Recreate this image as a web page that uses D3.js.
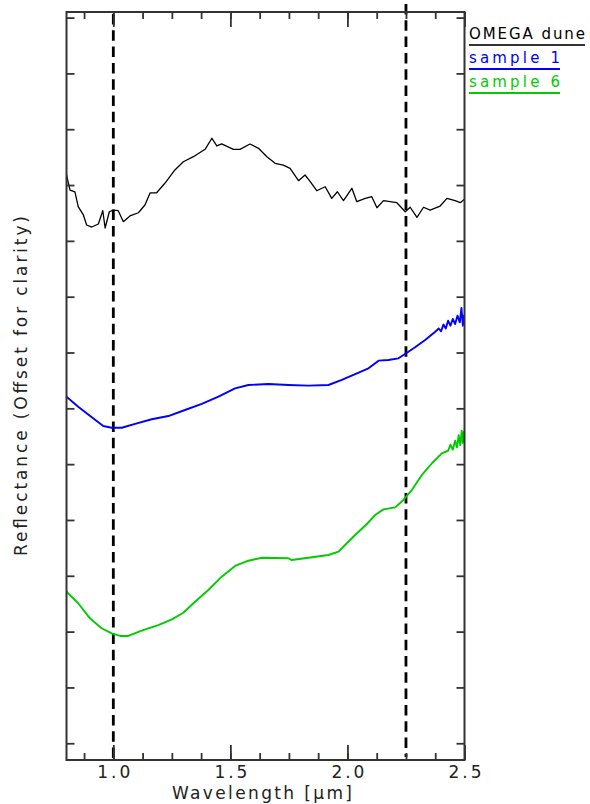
<!DOCTYPE html>
<html>
<head>
<meta charset="utf-8">
<script src="https://cdn.jsdelivr.net/npm/d3@7"></script>
<style>
  body { margin: 0; background: #fff; }
  text { font-family: "DejaVu Sans", sans-serif; fill: #222; }
</style>
</head>
<body>
<div id="chart"></div>
<script>
// wavelength (um) / offset reflectance
var omegaX = [0.80,0.815,0.836,0.850,0.872,0.886,0.908,0.936,0.955,0.965,0.983,1.000,1.021,1.043,1.071,1.107,1.135,1.157,1.185,1.221,1.263,1.299,1.342,1.392,1.421,1.442,1.463,1.513,1.541,1.584,1.620,1.656,1.691,1.726,1.755,1.791,1.819,1.841,1.869,1.905,1.933,1.957,1.983,2.019,2.040,2.076,2.104,2.126,2.154,2.211,2.247,2.268,2.297,2.325,2.353,2.396,2.425,2.460,2.482,2.500];
var omegaY = [0.559,0.5455,0.5438,0.5306,0.5232,0.5142,0.5124,0.5151,0.5270,0.5115,0.5261,0.5276,0.5270,0.5172,0.5223,0.5252,0.5321,0.5429,0.5431,0.5518,0.5635,0.5709,0.5754,0.5820,0.5919,0.5850,0.5868,0.5820,0.5820,0.5868,0.5829,0.5754,0.5695,0.5679,0.5650,0.5539,0.5590,0.5530,0.5449,0.5485,0.5381,0.5440,0.5360,0.5471,0.5351,0.5381,0.5396,0.5297,0.5360,0.5342,0.5261,0.5301,0.5211,0.5301,0.5276,0.5312,0.5381,0.5360,0.5342,0.5372];

var sample1X = [0.80,0.850,0.908,0.957,0.993,1.036,1.093,1.164,1.235,1.306,1.378,1.449,1.520,1.577,1.662,1.748,1.833,1.919,1.976,2.033,2.090,2.133,2.175,2.218,2.254,2.289,2.332,2.375,2.390,2.400,2.410,2.420,2.430,2.440,2.450,2.460,2.470,2.480,2.487,2.493,2.497,2.500];
var sample1Y = [0.3604,0.3515,0.3420,0.3342,0.3326,0.3326,0.3360,0.3402,0.3431,0.3485,0.3539,0.3604,0.3679,0.3709,0.3718,0.3709,0.3703,0.3709,0.3754,0.3807,0.3858,0.3927,0.3933,0.3948,0.3998,0.4047,0.4112,0.4186,0.4215,0.4190,0.4250,0.4215,0.4285,0.4240,0.4300,0.4255,0.4330,0.4270,0.4400,0.4240,0.4330,0.4300];

var sample6X = [0.80,0.850,0.900,0.950,0.993,1.029,1.064,1.121,1.192,1.250,1.299,1.349,1.406,1.463,1.520,1.577,1.634,1.748,1.762,1.833,1.919,1.962,1.990,2.033,2.083,2.118,2.154,2.204,2.239,2.275,2.318,2.361,2.403,2.430,2.440,2.450,2.460,2.468,2.475,2.482,2.488,2.493,2.497,2.500];
var sample6Y = [0.1857,0.1754,0.1619,0.1530,0.1485,0.1461,0.1461,0.1508,0.1559,0.1610,0.1669,0.1768,0.1873,0.1992,0.2088,0.2135,0.2162,0.2157,0.2141,0.2162,0.2186,0.2216,0.2276,0.2365,0.2464,0.2544,0.2595,0.2613,0.2679,0.2768,0.2903,0.3008,0.3097,0.3120,0.3175,0.3130,0.3210,0.3150,0.3260,0.3170,0.3300,0.3190,0.3290,0.3250];

var seriesNames = ["OMEGA dune", "sample 1", "sample 6"];
var seriesColors = ["#000000", "#0000ff", "#00cc00"];
var markerLines = [1.0, 2.25];

var xMajor = [1.0, 1.5, 2.0, 2.5];
var xMinor = d3.range(7, 21).map(function(k){ return k * 0.125; });
var yTicks = d3.range(1, 15).map(function(k){ return k * 0.05; });

var W = 590, H = 804;
var pLeft = 66.5, pRight = 464.5, pTop = 12, pBottom = 760;

var svg = d3.select("#chart")
    .append("svg")
    .attr("width", W)
    .attr("height", H);

var x = d3.scaleLinear().domain([0.8, 2.5]).range([pLeft, pRight]);
var y = d3.scaleLinear().domain([0.035, 0.705]).range([pBottom, pTop]);

svg.append("clipPath").attr("id", "clip")
    .append("rect")
    .attr("x", pLeft).attr("y", pTop)
    .attr("width", pRight - pLeft).attr("height", pBottom - pTop);

// dashed markers
markerLines.forEach(function(v, i){
    svg.append("line")
        .attr("x1", x(v)).attr("x2", x(v))
        .attr("y1", i == 0 ? pTop + 2 : pTop - 8)
        .attr("y2", i == 0 ? pBottom + 2 : pBottom - 3)
        .style("stroke", "#000")
        .style("stroke-width", 2.8)
        .style("stroke-dasharray", "10.5,5.8");
});

var line = d3.line()
    .x(function(d){ return x(d[0]); })
    .y(function(d){ return y(d[1]); });

var series = [
    d3.zip(omegaX, omegaY),
    d3.zip(sample1X, sample1Y),
    d3.zip(sample6X, sample6Y)
];

var plot = svg.append("g").attr("clip-path", "url(#clip)");
series.forEach(function(s, i){
    plot.append("path")
        .datum(s)
        .attr("d", line)
        .style("fill", "none")
        .style("stroke", seriesColors[i])
        .style("stroke-width", i == 0 ? 1.3 : 1.9)
        .style("stroke-linejoin", "round");
});

// axes
function styleAxis(g){
    g.selectAll("path").remove();
    g.selectAll("line").style("stroke", "#333").style("stroke-width", 1.8);
}

svg.append("g")
    .attr("transform", "translate(0," + pBottom + ")")
    .call(d3.axisBottom(x).tickValues(xMinor).tickSize(-7).tickFormat(""))
    .call(styleAxis);
svg.append("g")
    .attr("transform", "translate(0," + pBottom + ")")
    .call(d3.axisBottom(x).tickValues(xMajor).tickSize(-15).tickPadding(6).tickFormat(d3.format(".1f")))
    .call(styleAxis)
    .selectAll("text")
    .style("font-size", "17px")
    .attr("textLength", 33)
    .attr("lengthAdjust", "spacing");

svg.append("g")
    .attr("transform", "translate(0," + pTop + ")")
    .call(d3.axisTop(x).tickValues(xMinor).tickSize(-7).tickFormat(""))
    .call(styleAxis);
svg.append("g")
    .attr("transform", "translate(0," + pTop + ")")
    .call(d3.axisTop(x).tickValues(xMajor).tickSize(-15).tickFormat(""))
    .call(styleAxis);

svg.append("g")
    .attr("transform", "translate(" + pLeft + ",0)")
    .call(d3.axisLeft(y).tickValues(yTicks).tickSize(-8).tickFormat(""))
    .call(styleAxis);
svg.append("g")
    .attr("transform", "translate(" + pRight + ",0)")
    .call(d3.axisRight(y).tickValues(yTicks).tickSize(-8).tickFormat(""))
    .call(styleAxis);

svg.append("rect")
    .attr("x", pLeft).attr("y", pTop)
    .attr("width", pRight - pLeft).attr("height", pBottom - pTop)
    .style("fill", "none")
    .style("stroke", "#333")
    .style("stroke-width", 2);

// axis titles
svg.append("text")
    .attr("x", 262).attr("y", 799)
    .attr("text-anchor", "middle")
    .attr("textLength", 180)
    .attr("lengthAdjust", "spacing")
    .style("font-size", "17px")
    .text("Wavelength [\u03bcm]");

svg.append("text")
    .attr("transform", "translate(27," + ((pTop + pBottom) / 2) + ") rotate(-90)")
    .attr("text-anchor", "middle")
    .attr("textLength", 340)
    .attr("lengthAdjust", "spacing")
    .style("font-size", "17px")
    .text("Reflectance (Offset for clarity)");

// legend
var legendW = [116, 91, 91];
seriesNames.forEach(function(name, i){
    var by = 39 + i * 24;
    svg.append("text")
        .attr("x", 469).attr("y", by)
        .attr("textLength", legendW[i])
        .attr("lengthAdjust", "spacing")
        .style("font-size", "15px")
        .style("fill", seriesColors[i])
        .text(name);
    svg.append("line")
        .attr("x1", 469).attr("x2", 469 + legendW[i])
        .attr("y1", by + 6).attr("y2", by + 6)
        .style("stroke", i == 0 ? "#333" : seriesColors[i])
        .style("stroke-width", 2);
});
</script>
</body>
</html>
